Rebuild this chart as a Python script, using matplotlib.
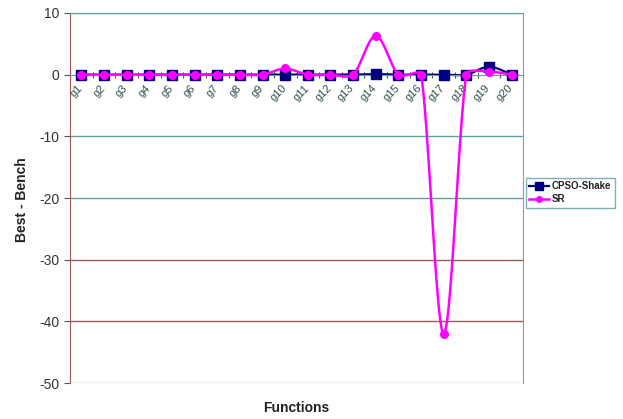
import numpy as np
import matplotlib.pyplot as plt
from matplotlib.transforms import ScaledTranslation

plt.rcParams['font.family'] = ['Liberation Sans', 'DejaVu Sans']
plt.rcParams['axes.unicode_minus'] = False

# data
functions = ['g%d' % i for i in range(1, 21)]
cpso_shake = [0, 0, 0, 0, 0, 0, 0, 0, 0, 0, 0, 0, 0, 0.1, 0, 0, 0, 0, 1.3, 0]
sr = [0, 0, 0, 0, 0, 0, 0, 0, 0, 1.0, 0, 0, 0, 6.3, 0, 0, -42, 0, 0.5, 0]
yticks = [10, 0, -10, -20, -30, -40, -50]


def smooth(ax, xs, ys, k=0.3, n=40):
    '''Excel-like smoothed line: bezier segments computed in screen space.'''
    pts = ax.transData.transform(np.column_stack([xs, ys]))
    m = len(pts)
    tang = np.zeros_like(pts)
    for i in range(m):
        tang[i] = (pts[min(i + 1, m - 1)] - pts[max(i - 1, 0)]) / 6.0
    out = [pts[0]]
    t = np.linspace(0, 1, n)[1:, None]
    for i in range(m - 1):
        p0, p3 = pts[i], pts[i + 1]
        L = np.hypot(*(p3 - p0))
        a, b = tang[i], tang[i + 1]
        la, lb = np.hypot(*a), np.hypot(*b)
        if la > L * k:
            a = a * L * k / la
        if lb > L * k:
            b = b * L * k / lb
        p1 = p0 + a
        p2 = p3 - b
        seg = ((1 - t) ** 3) * p0 + 3 * ((1 - t) ** 2) * t * p1 \
            + 3 * (1 - t) * t ** 2 * p2 + t ** 3 * p3
        out.extend(seg)
    out = ax.transData.inverted().transform(np.array(out))
    return out[:, 0], out[:, 1]


fig = plt.figure(figsize=(6.23, 4.19), dpi=100)
ax = fig.add_axes([70 / 623, 36 / 419, 453 / 623, 370 / 419])

x = np.arange(1, len(functions) + 1)
ax.set_xlim(0.5, len(functions) + 0.5)
ax.set_ylim(-50, 10)

# gridlines
for v in yticks:
    if v in (0, -50):
        continue
    col = '#a05a5a' if v in (-30, -40) else '#5f9f9f'
    ax.axhline(v, color=col, lw=1, zorder=0)

cx, cy = smooth(ax, x, cpso_shake)
ax.plot(cx, cy, color='#000080', lw=1.6, zorder=2)
ax.plot(x, cpso_shake, ls='none', marker='s', ms=7, color='#000080', zorder=3)
sx, sy = smooth(ax, x, sr)
ax.plot(sx, sy, color='#ff00ff', lw=1.8, zorder=4)
ax.plot(x, sr, ls='none', marker='o', ms=5.5, color='#ff00ff', zorder=5)

# legend proxies
ax.plot([], [], color='#000080', lw=1.6, marker='s', ms=5.5, label='CPSO-Shake')
ax.plot([], [], color='#ff00ff', lw=1.8, marker='o', ms=4, label='SR')
leg = fig.legend(loc='upper left', bbox_to_anchor=(526 / 623, 1 - 178 / 419),
                 frameon=True, fancybox=False, handlelength=2.0,
                 borderpad=0.35, labelspacing=0.3, handletextpad=0.3,
                 borderaxespad=0, prop={'weight': 'bold', 'size': 7})
leg.get_frame().set_edgecolor('#5f9f9f')
leg.get_frame().set_linewidth(1)
for t in leg.get_texts():
    t.set_color('#222222')

# axes styling
ax.spines['bottom'].set_position(('data', 0))
ax.spines['bottom'].set_color('#5f9f9f')
ax.spines['left'].set_color('#a05a5a')
ax.spines['top'].set_color('#5f9f9f')
ax.spines['right'].set_color('#999999')
ax.axhline(-50, color='#aaaaaa', lw=1, zorder=0)

ax.set_yticks(yticks)
ax.tick_params(axis='y', direction='out', length=4, color='#555555',
               labelsize=10, labelcolor='#333333')

ax.set_xticks(np.arange(0.5, len(functions) + 1, 1))
ax.set_xticklabels([])
ax.tick_params(axis='x', which='major', direction='inout', length=5,
               color='#555555')
ax.set_xticks(x, minor=True)
ax.set_xticklabels(functions, minor=True, rotation=45, ha='right',
                   va='top', rotation_mode='anchor')
ax.tick_params(axis='x', which='minor', length=0, pad=6, labelsize=8,
               labelcolor='#2f4f4f')
shift = ScaledTranslation(-4 / 100, 0, fig.dpi_scale_trans)
for lab in ax.get_xticklabels(minor=True):
    lab.set_transform(lab.get_transform() + shift)

fig.text(22 / 623, 1 - 200 / 419, 'Best - Bench', rotation=90, ha='center',
         va='center', fontsize=10, fontweight='bold', color='#222222')
fig.text(296 / 623, 1 - 408 / 419, 'Functions', ha='center', va='center',
         fontsize=10, fontweight='bold', color='#222222')

plt.savefig('out.png')
